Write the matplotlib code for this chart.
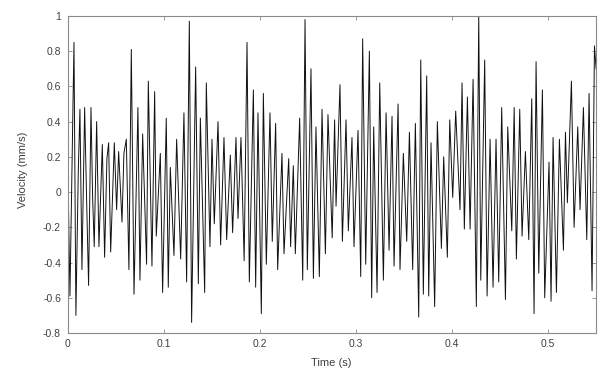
import matplotlib
matplotlib.use("Agg")
import matplotlib.pyplot as plt

# extrema of the velocity trace (time s, velocity mm/s)
time_s = [
    0.0000, 0.0021, 0.0063, 0.0083, 0.0108, 0.0125, 0.0146, 0.0174, 0.0194, 0.0215,
    0.0240, 0.0257, 0.0274, 0.0299, 0.0323, 0.0358, 0.0382, 0.0406, 0.0424, 0.0445,
    0.0483, 0.0507, 0.0528, 0.0563, 0.0583, 0.0608, 0.0635, 0.0660, 0.0688, 0.0729,
    0.0750, 0.0778, 0.0819, 0.0837, 0.0875, 0.0903,
    0.0920, 0.0962, 0.0986, 0.1024, 0.1045, 0.1066, 0.1104, 0.1132, 0.1174, 0.1208,
    0.1236, 0.1264, 0.1288, 0.1330, 0.1358, 0.1379, 0.1424, 0.1441, 0.1479, 0.1500,
    0.1524, 0.1563, 0.1590, 0.1625, 0.1653, 0.1691, 0.1715, 0.1750, 0.1771, 0.1802,
    0.1835,
    0.1865, 0.1889, 0.1931, 0.1955, 0.1979, 0.2014, 0.2035, 0.2066, 0.2104, 0.2128,
    0.2163, 0.2184, 0.2229, 0.2250, 0.2299, 0.2319, 0.2347, 0.2368, 0.2413, 0.2445,
    0.2469, 0.2493, 0.2531, 0.2556, 0.2583, 0.2618, 0.2646, 0.2681, 0.2708, 0.2752,
    0.2777,
    0.2792, 0.2833, 0.2858, 0.2896, 0.2920, 0.2958, 0.2979, 0.3021, 0.3049, 0.3069,
    0.3101, 0.3139, 0.3163, 0.3184, 0.3219, 0.3247, 0.3285, 0.3313, 0.3344, 0.3375,
    0.3396, 0.3438, 0.3458, 0.3493, 0.3528, 0.3556, 0.3590, 0.3618, 0.3653, 0.3674,
    0.3701,
    0.3736, 0.3757, 0.3781, 0.3819, 0.3847, 0.3889, 0.3913, 0.3951, 0.3976, 0.4007,
    0.4038, 0.4083, 0.4104, 0.4128, 0.4160, 0.4188, 0.4219, 0.4253, 0.4278, 0.4299,
    0.4340, 0.4365, 0.4396, 0.4427, 0.4458, 0.4486, 0.4517, 0.4556, 0.4580, 0.4622,
    0.4647,
    0.4670, 0.4705, 0.4729, 0.4764, 0.4799, 0.4830, 0.4854, 0.4875, 0.4903, 0.4941,
    0.4965, 0.5010, 0.5031, 0.5052, 0.5087, 0.5118, 0.5160, 0.5181, 0.5201, 0.5243,
    0.5271, 0.5309, 0.5333, 0.5368, 0.5403, 0.5427, 0.5458, 0.5483, 0.5500,
]
velocity = [
    0.11, -0.59, 0.85, -0.70, 0.12, 0.47, -0.44, 0.48, -0.03, -0.53,
    0.48, -0.03, -0.31, 0.40, -0.31, 0.27, -0.37, 0.19, 0.28, -0.34,
    0.28, -0.10, 0.23, -0.17, 0.22, 0.30, -0.44, 0.81, -0.58, 0.48,
    -0.50, 0.33, -0.41, 0.63, -0.42, 0.57,
    -0.25, 0.22, -0.57, 0.42, -0.54, 0.14, -0.36, 0.30, -0.38, 0.45,
    -0.51, 0.97, -0.74, 0.71, -0.52, 0.42, -0.57, 0.62, -0.31, 0.30,
    -0.18, 0.40, -0.30, 0.31, -0.27, 0.21, -0.23, 0.31, -0.15, 0.31,
    -0.39,
    0.85, -0.51, 0.58, -0.54, 0.45, -0.69, 0.56, -0.41, 0.45, -0.28,
    0.39, -0.44, 0.22, -0.35, 0.19, -0.31, 0.15, -0.35, 0.42, -0.50,
    0.98, -0.44, 0.70, -0.49, 0.37, -0.48, 0.47, -0.35, 0.44, -0.26,
    0.41,
    -0.08, 0.61, -0.28, 0.41, -0.22, 0.31, -0.31, 0.35, -0.48, 0.87,
    -0.41, 0.80, -0.60, 0.37, -0.57, 0.62, -0.50, 0.45, -0.33, 0.43,
    -0.42, 0.50, -0.44, 0.22, -0.28, 0.34, -0.44, 0.39, -0.71, 0.75,
    -0.58,
    0.66, -0.59, 0.28, -0.65, 0.40, -0.32, 0.20, -0.37, 0.41, -0.03,
    0.46, -0.10, 0.62, -0.21, 0.54, -0.21, 0.64, -0.65, 1.00, -0.50,
    0.75, -0.59, 0.30, -0.54, 0.30, -0.51, 0.48, -0.61, 0.37, -0.22,
    0.48,
    -0.38, 0.47, -0.25, 0.23, -0.27, 0.53, -0.69, 0.74, -0.46, 0.58,
    -0.60, 0.17, -0.62, 0.31, -0.57, 0.30, -0.33, 0.34, -0.06, 0.63,
    -0.20, 0.37, -0.10, 0.48, -0.27, 0.56, -0.56, 0.83, 0.70,
]

x_ticks = [0, 0.1, 0.2, 0.3, 0.4, 0.5]
x_tick_labels = ["0", "0.1", "0.2", "0.3", "0.4", "0.5"]
y_ticks = [-0.8, -0.6, -0.4, -0.2, 0, 0.2, 0.4, 0.6, 0.8, 1]
y_tick_labels = ["-0.8", "-0.6", "-0.4", "-0.2", "0", "0.2", "0.4", "0.6", "0.8", "1"]

plt.rcParams['font.family'] = ['Liberation Sans', 'DejaVu Sans']

fig = plt.figure(figsize=(6.12, 3.77), dpi=100)
ax = fig.add_axes([0.111, 0.1167, 0.863, 0.841])
ax.plot(time_s, velocity, color='#111111', linewidth=0.7)

ax.set_xlim(0, 0.55)
ax.set_ylim(-0.8, 1)
ax.set_xticks(x_ticks)
ax.set_xticklabels(x_tick_labels)
ax.set_yticks(y_ticks)
ax.set_yticklabels(y_tick_labels)

frame_color = '#8a8a8a'
text_color = '#404040'
for s in ax.spines.values():
    s.set_color(frame_color)
    s.set_linewidth(0.8)
ax.tick_params(direction='in', length=3, width=0.6, color=frame_color,
               labelsize=7.5, labelcolor=text_color, top=True, right=True)
ax.tick_params(axis='y', pad=5)
ax.tick_params(axis='x', pad=4)

ax.set_xlabel("Time (s)", fontsize=8, color=text_color)
ax.set_ylabel("Velocity (mm/s)", fontsize=8, color=text_color)
ax.xaxis.set_label_coords(0.498, -0.079)
ax.yaxis.set_label_coords(-0.076, 0.515)

fig.savefig("out.png", dpi=100)
